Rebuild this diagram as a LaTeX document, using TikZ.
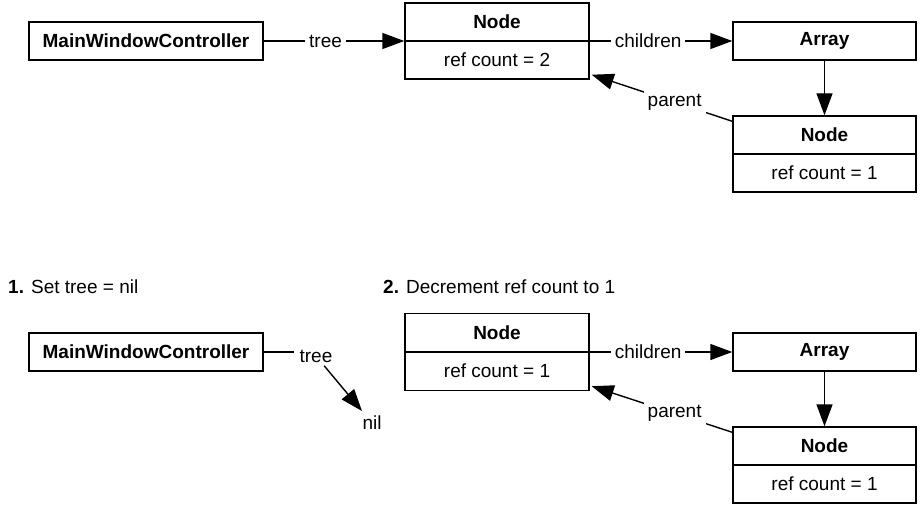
\documentclass[tikz,border=0pt]{standalone}
\usepackage{fontspec}
\setmainfont{Liberation Sans}
\usetikzlibrary{arrows.meta,calc}
\begin{document}
\begin{tikzpicture}[x=1pt,y=-1pt,
  font=\fontsize{19}{23}\selectfont,
  box/.style={draw, line width=1.4pt, inner sep=0pt},
  conn/.style={line width=1.4pt},
  arr/.style={conn, -{Triangle[length=22pt,width=16pt]}},
  lbl/.style={fill=white, inner sep=4pt},
  ttl/.style={font=\fontsize{19}{23}\selectfont\bfseries}]
\useasboundingbox (0,0) rectangle (920,508);

% ---------- top diagram ----------
\node[box, ttl, minimum width=234pt, minimum height=38pt] (mwcA) at (146,41) {MainWindowController};
\node[box, minimum width=184pt, minimum height=76pt] (nodeA) at (497,41) {};
\draw[conn] (nodeA.west) -- (nodeA.east);
\node[ttl] (nodeAt) at (497,22) {Node};
\node (nodeAc) at (497,60) {ref count = 2};

\node[box, ttl, minimum width=183pt, minimum height=38pt] (arrA) at (824.5,41) {Array};
\node[box, minimum width=183pt, minimum height=76pt] (nodeB) at (824.5,154) {};
\draw[conn] (nodeB.west) -- (nodeB.east);
\node[ttl] (nodeBt) at (824.5,135) {Node};
\node (nodeBc) at (824.5,173) {ref count = 1};

\draw[arr] (mwcA) -- node[lbl, pos=0.44] {tree} (nodeA);
\draw[arr] (nodeA) -- node[lbl, pos=0.41] {children} (arrA);
\draw[arr] (arrA) -- (nodeB);
\coordinate (pA) at ($(nodeB.north west)+(0,6)$);
\coordinate (pB) at ($(nodeA.south east)+(2,-5)$);
\draw[arr] (pA) -- node[lbl, pos=0.41] {parent} (pB);

% ---------- headings ----------
\node[anchor=west, inner sep=0pt] (h1) at (8,287) {\textbf{1.} Set tree = nil};
\node[anchor=west, inner sep=0pt] (h2) at (383,287) {\textbf{2.} Decrement ref count to 1};

% ---------- bottom diagram ----------
\node[box, ttl, minimum width=234pt, minimum height=38pt] (mwcB) at (146,352) {MainWindowController};
\node (treeL) at (316,356) {tree};
\coordinate (treeIn) at (294,352);
\node (nilL) at (372,423) {nil};
\draw[conn] (mwcB.east) -- (treeIn);
\draw[arr, shorten >=2pt] (treeL) -- (nilL);

\node[box, minimum width=184pt, minimum height=77pt] (nodeC) at (497,352) {};
\draw[conn] (nodeC.west) -- (nodeC.east);
\node[ttl] (nodeCt) at (497,333) {Node};
\node (nodeCc) at (497,371) {ref count = 1};

\node[box, ttl, minimum width=183pt, minimum height=38pt] (arrB) at (824.5,352) {Array};
\node[box, minimum width=183pt, minimum height=76pt] (nodeD) at (824.5,465) {};
\draw[conn] (nodeD.west) -- (nodeD.east);
\node[ttl] (nodeDt) at (824.5,446) {Node};
\node (nodeDc) at (824.5,484) {ref count = 1};

\draw[arr] (nodeC) -- node[lbl, pos=0.41] {children} (arrB);
\draw[arr] (arrB) -- (nodeD);
\coordinate (pC) at ($(nodeD.north west)+(0,6)$);
\coordinate (pD) at ($(nodeC.south east)+(2,-5)$);
\draw[arr] (pC) -- node[lbl, pos=0.41] {parent} (pD);
\end{tikzpicture}
\end{document}
